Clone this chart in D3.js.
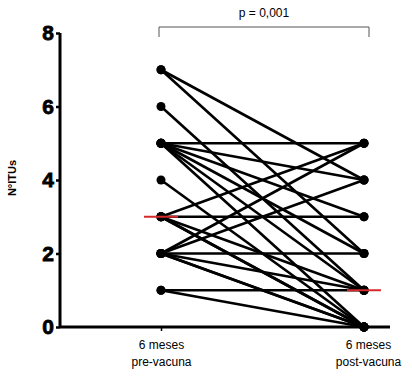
<!DOCTYPE html>
<html>
<head>
<meta charset="utf-8">
<script src="https://cdn.jsdelivr.net/npm/d3@7"></script>
<style>
  body { margin: 0; background: #fff; }
  svg { display: block; font-family: Arial, "Liberation Sans", sans-serif; }
</style>
</head>
<body>
<svg id="chart" width="412" height="377"></svg>
<script>
// paired observations: NºITUs before and after vaccination
const groups = ['pre', 'post'];
const groupLabels = [['6 meses', 'pre-vacuna'], ['6 meses', 'post-vacuna']];
const preValues  = [7, 7, 6, 5, 5, 5, 5, 5, 5, 4, 3, 3, 3, 3, 3, 2, 2, 2, 2, 2, 2, 1, 1];
const postValues = [4, 2, 1, 5, 4, 3, 2, 1, 0, 0, 5, 3, 1, 0, 0, 5, 4, 2, 1, 0, 0, 1, 0];
const yTicks = [0, 2, 4, 6, 8];
const pLabel = 'p = 0,001';
const yTitle = 'N°ITUs';

const margin = { top: 33, right: 22, bottom: 50, left: 60 };
const width = 412 - margin.left - margin.right;
const height = 377 - margin.top - margin.bottom;

const svg = d3.select('#chart');
const g = svg.append('g').attr('transform', `translate(${margin.left},${margin.top})`);

const x = d3.scalePoint().domain(groups).range([101, 304]);
const y = d3.scaleLinear().domain([0, 8]).range([height, 0]);

const pairs = preValues.map((v, i) => ({ pre: v, post: postValues[i] }));

// lines between the paired points
g.append('g').selectAll('line')
  .data(pairs)
  .join('line')
  .attr('x1', x('pre'))
  .attr('y1', d => y(d.pre))
  .attr('x2', x('post'))
  .attr('y2', d => y(d.post))
  .attr('stroke', '#000')
  .attr('stroke-width', 2.6);

// dots
const dots = [];
pairs.forEach(d => { dots.push({ g: 'pre', v: d.pre }); dots.push({ g: 'post', v: d.post }); });
g.append('g').selectAll('circle')
  .data(dots)
  .join('circle')
  .attr('cx', d => x(d.g))
  .attr('cy', d => y(d.v))
  .attr('r', 4.5)
  .attr('fill', '#000');

// medians
const medians = [
  { g: 'pre', v: d3.median(preValues) },
  { g: 'post', v: d3.median(postValues) }
];
g.append('g').selectAll('line')
  .data(medians)
  .join('line')
  .attr('x1', d => x(d.g) - 17)
  .attr('x2', d => x(d.g) + 17)
  .attr('y1', d => y(d.v))
  .attr('y2', d => y(d.v))
  .attr('stroke', '#d42a2a')
  .attr('stroke-width', 2);

// y axis
const yAxis = g.append('g')
  .call(d3.axisLeft(y).tickValues(yTicks).tickSize(4).tickPadding(2).tickFormat(d3.format('d')));
yAxis.select('.domain').attr('stroke-width', 3).attr('d', `M0,${height}V0`);
yAxis.selectAll('.tick line').attr('stroke-width', 2.5);
yAxis.selectAll('.tick text')
  .attr('font-size', 21).attr('font-weight', 'bold').attr('fill', '#000')
  .attr('stroke', '#000').attr('stroke-width', 0.8)
  .attr('font-family', 'Arial, "Liberation Sans", sans-serif');

// x axis
const xAxis = g.append('g')
  .attr('transform', `translate(0,${height})`)
  .call(d3.axisBottom(x).tickSize(4).tickFormat(''));
xAxis.select('.domain').attr('stroke-width', 3).attr('d', `M0,0H${width}`);
xAxis.selectAll('.tick line').attr('stroke-width', 1.5);
xAxis.selectAll('.tick').each(function(d, i) {
  const t = d3.select(this).append('text')
    .attr('fill', '#000')
    .attr('font-size', 12)
    .attr('text-anchor', 'middle')
    .attr('font-family', 'Arial, "Liberation Sans", sans-serif');
  groupLabels[i].forEach((s, j) => {
    t.append('tspan').attr('x', i === 1 ? 4 : 0).attr('y', 22 + j * 17).text(s);
  });
});

// y title
svg.append('text')
  .attr('transform', `translate(16,${margin.top + height / 2 - 2}) rotate(-90)`)
  .attr('text-anchor', 'middle')
  .attr('font-size', 11)
  .attr('font-weight', 'bold')
  .text(yTitle);

// significance bracket
const bx0 = margin.left + x('pre') - 2;
const bx1 = margin.left + x('post') + 5;
svg.append('path')
  .attr('d', `M${bx0},37V27H${bx1}V37`)
  .attr('fill', 'none')
  .attr('stroke', '#555')
  .attr('stroke-width', 1);
svg.append('text')
  .attr('x', (bx0 + bx1) / 2)
  .attr('y', 17)
  .attr('text-anchor', 'middle')
  .attr('font-size', 12)
  .text(pLabel);
</script>
</body>
</html>
